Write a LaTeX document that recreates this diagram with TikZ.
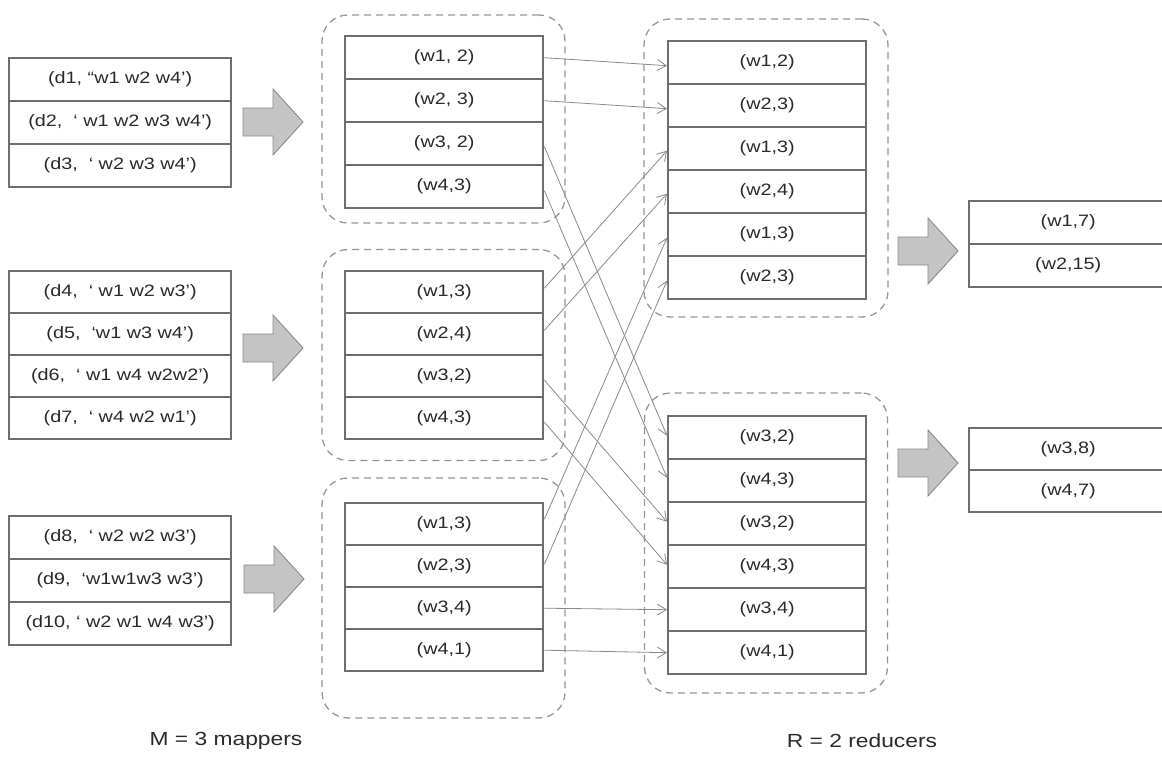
\documentclass[tikz,border=0pt]{standalone}
\usepackage{fontspec}
\newfontfamily\labfont{Liberation Sans}[FakeStretch=1.2]
\usetikzlibrary{arrows.meta}
\definecolor{tabline}{HTML}{6E6E6E}
\definecolor{dashline}{HTML}{969696}
\definecolor{linkline}{HTML}{8A8A8A}
\definecolor{txt}{HTML}{2A2A2A}
\definecolor{fatfill}{HTML}{C4C4C4}
\definecolor{fatline}{HTML}{8A8A8A}
\tikzset{
  cell/.style={draw=tabline, line width=2.4pt, fill=white, inner sep=0pt,
    anchor=north west, text=txt, font=\labfont\fontsize{16.5}{19}\selectfont},
  group/.style={draw=dashline, line width=1.3pt, dash pattern=on 7pt off 5pt,
    rounded corners=26pt, inner sep=0pt},
  link/.style={draw=linkline, line width=0.8pt,
    -{Straight Barb[length=9pt,width=11pt,line width=0.8pt]}},
  fat/.style={fill=fatfill, draw=fatline, line width=0.9pt, line join=miter},
  caption/.style={text=txt, font=\labfont\fontsize{19}{22}\selectfont}
}
% a column of table rows: name, left x, top y, width, row height, row texts
\newcommand\rowcol[6]{%
  \foreach \t [count=\i] in {#6} {
    \node[cell, minimum width=#4, minimum height=#5] (#1r\i)
      at (#2, {#3+(\i-1)*#5}) {\t};
  }%
}
% a wide grey arrow pointing right: name, left x, centre y
\newcommand\fatarrow[3]{%
  \coordinate (#1) at (#2,#3);
  \draw[fat, shift={(#1)}] (0,-14) -- (30,-14) -- (30,-33) -- (60,0)
    -- (30,33) -- (30,14) -- (0,14) -- cycle;
}
\begin{document}
\begin{tikzpicture}[x=1pt, y=-1pt]
\useasboundingbox (0,0) rectangle (1162,757);
\clip (0,0) rectangle (1162,757);
\fill[white] (0,0) rectangle (1162,757);

% dashed groups round the mappers and reducers
\node[group, minimum width=243, minimum height=208] (gm1) at (443.5,119) {};
\node[group, minimum width=243, minimum height=211] (gm2) at (443.5,355) {};
\node[group, minimum width=243, minimum height=240] (gm3) at (443.5,598) {};
\node[group, minimum width=244, minimum height=298] (gr1) at (766,168) {};
\node[group, minimum width=243, minimum height=300] (gr2) at (766,543) {};

% input documents
\rowcol{ia}{8}{57}{222}{43}{{(d1, “w1 w2 w4’)},{(d2,\ \ ‘ w1 w2 w3 w4’)},{(d3,\ \ ‘ w2 w3 w4’)}}
\rowcol{ib}{8}{270}{222}{42}{{(d4,\ \ ‘ w1 w2 w3’)},{(d5,\ \ ‘w1 w3 w4’)},{(d6,\ \ ‘ w1 w4 w2w2’)},{(d7,\ \ ‘ w4 w2 w1’)}}
\rowcol{ic}{8}{515}{222}{43}{{(d8,\ \ ‘ w2 w2 w3’)},{(d9,\ \ ‘w1w1w3 w3’)},{(d10, ‘ w2 w1 w4 w3’)}}

% mapper outputs
\rowcol{ma}{344}{35}{198}{43}{{(w1, 2)},{(w2, 3)},{(w3, 2)},{(w4,3)}}
\rowcol{mb}{344}{270}{198}{42}{{(w1,3)},{(w2,4)},{(w3,2)},{(w4,3)}}
\rowcol{mc}{344}{502}{198}{42}{{(w1,3)},{(w2,3)},{(w3,4)},{(w4,1)}}

% reducer inputs
\rowcol{ra}{667}{40}{198}{43}{{(w1,2)},{(w2,3)},{(w1,3)},{(w2,4)},{(w1,3)},{(w2,3)}}
\rowcol{rb}{667}{415}{198}{43}{{(w3,2)},{(w4,3)},{(w3,2)},{(w4,3)},{(w3,4)},{(w4,1)}}

% final results
\rowcol{oa}{968}{200}{198}{43}{{(w1,7)},{(w2,15)}}
\rowcol{ob}{968}{427}{198}{42}{{(w3,8)},{(w4,7)}}

% wide arrows
\fatarrow{fa1}{243}{122}
\fatarrow{fa2}{243}{348}
\fatarrow{fa3}{244}{579}
\fatarrow{fa4}{898}{251}
\fatarrow{fa5}{898}{463}

% shuffle links
\draw[link] (mar1.east) -- ([yshift=-3pt]rar1.west);
\draw[link] (mar2.east) -- ([yshift=-3pt]rar2.west);
\draw[link] ([yshift=-3pt]mar3.east) -- ([yshift=2pt]rbr1.west);
\draw[link] ([yshift=-4pt]mar4.east) -- ([yshift=3pt]rbr2.west);
\draw[link] ([yshift=4pt]mbr1.east) -- ([yshift=-2pt]rar3.west);
\draw[link] ([yshift=4pt]mbr2.east) -- ([yshift=-2pt]rar4.west);
\draw[link] ([yshift=-4pt]mbr3.east) -- ([yshift=2pt]rbr3.west);
\draw[link] ([yshift=-4pt]mbr4.east) -- ([yshift=2pt]rbr4.west);
\draw[link] ([yshift=5pt]mcr1.east) -- ([yshift=-3pt]rar5.west);
\draw[link] ([yshift=2pt]mcr2.east) -- ([yshift=-3pt]rar6.west);
\draw[link] (mcr3.east) -- (rbr5.west);
\draw[link] (mcr4.east) -- (rbr6.west);

% captions
\node[caption] (capm) at (226,741) {M = 3 mappers};
\node[caption] (capr) at (862,741) {R = 2 reducers};
\end{tikzpicture}
\end{document}
